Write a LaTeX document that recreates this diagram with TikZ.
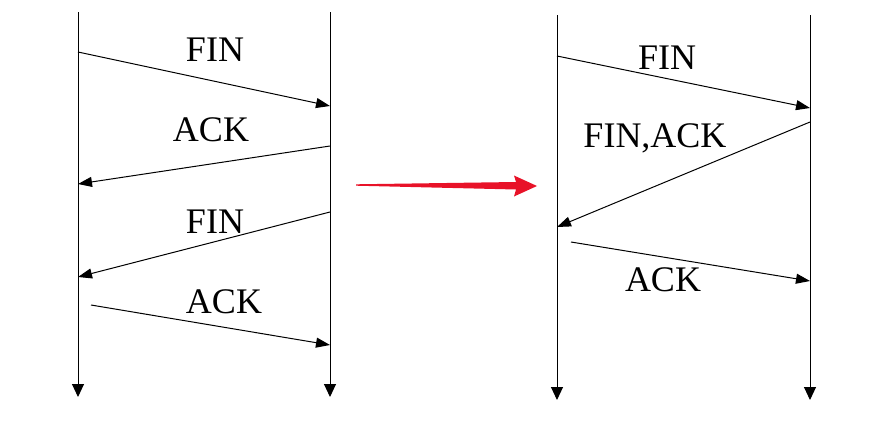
\documentclass[tikz,border=0pt]{standalone}
\usepackage{fontspec}
\setmainfont{Liberation Serif}
\usetikzlibrary{arrows.meta}
\definecolor{redarrow}{RGB}{232,18,40}
\begin{document}
\begin{tikzpicture}[x=1pt,y=-1pt,
  timeline/.style={line width=1pt,-{Triangle[length=13pt,width=12pt]}},
  msg/.style={line width=1pt,-{Triangle[length=14pt,width=10pt]}},
  lbl/.style={font=\fontsize{36}{40}\selectfont,inner sep=0pt,anchor=center}]
\useasboundingbox (0,0) rectangle (870,439);
% left diagram
\coordinate (LAt) at (78,12);  \coordinate (LAb) at (78,397);
\coordinate (LBt) at (330,12); \coordinate (LBb) at (330,397);
\draw[timeline] (LAt) -- (LAb);
\draw[timeline] (LBt) -- (LBb);
\coordinate (l1s) at (78,52);   \coordinate (l1e) at (330,106);
\coordinate (l2s) at (330,146); \coordinate (l2e) at (78,184);
\coordinate (l3s) at (330,212); \coordinate (l3e) at (78,277);
\coordinate (l4s) at (91,305);  \coordinate (l4e) at (330,345);
\draw[msg] (l1s) -- (l1e);
\draw[msg] (l2s) -- (l2e);
\draw[msg] (l3s) -- (l3e);
\draw[msg] (l4s) -- (l4e);
\node[lbl] (t1) at (215,50) {FIN};
\node[lbl] (t2) at (211,130) {ACK};
\node[lbl] (t3) at (215,222) {FIN};
\node[lbl] (t4) at (224,302) {ACK};
% red arrow
\fill[redarrow] (356,184.3) -- (516,182) -- (514,175.5) -- (537,186) -- (514,196.5) -- (516,189.5) -- (356,185.7) -- cycle;
% right diagram
\coordinate (RAt) at (557,15);  \coordinate (RAb) at (557,400);
\coordinate (RBt) at (810,15);  \coordinate (RBb) at (810,400);
\draw[timeline] (RAt) -- (RAb);
\draw[timeline] (RBt) -- (RBb);
\coordinate (r1s) at (557,56);  \coordinate (r1e) at (810,108);
\coordinate (r2s) at (810,122); \coordinate (r2e) at (557,227);
\coordinate (r3s) at (571,242); \coordinate (r3e) at (810,281);
\draw[msg] (r1s) -- (r1e);
\draw[msg] (r2s) -- (r2e);
\draw[msg] (r3s) -- (r3e);
\node[lbl] (u1) at (667,58) {FIN};
\node[lbl] (u2) at (655,138) {FIN,ACK};
\node[lbl] (u3) at (663,280) {ACK};
\end{tikzpicture}
\end{document}
